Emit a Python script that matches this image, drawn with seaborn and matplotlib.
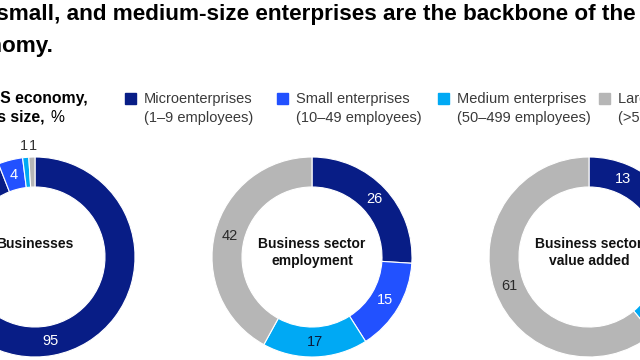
import matplotlib
matplotlib.use("Agg")
import matplotlib.pyplot as plt
from matplotlib.patches import Rectangle
import numpy as np
import seaborn as sns

# ── Data ────────────────────────────────────────────────────────────────
segments = ["Microenterprises", "Small enterprises", "Medium enterprises", "Large enterprises"]
segment_sizes = ["(1–9 employees)", "(10–49 employees)", "(50–499 employees)", "(>500 employees)"]
panel_names = ["Businesses", "Business sector\nemployment", "Business sector\nvalue added"]
businesses = [95, 4, 1, 1]
employment = [26, 15, 17, 42]
value_added = [13, 12, 14, 61]

title_lines = ["Micro-, small, and medium-size enterprises are the backbone of the",
               "US economy."]
subtitle_1 = "Share of US economy,"
subtitle_2 = "by business size,"
unit = "%"

colors = ["#081d86", "#2251ff", "#00a9f4", "#b6b6b6"]
value_colors = ["white", "white", "#0b1a3a", "#2a2a2a"]

sns.set_theme(style="white")
plt.rcParams["font.family"] = ["Liberation Sans", "DejaVu Sans"]

W, H = 640, 360
fig = plt.figure(figsize=(6.4, 3.6), dpi=100)
ax = fig.add_axes([0, 0, 1, 1])

# donut layout (pixel units, y up)
centers_x = [35, 312, 589]
center_y = H - 257
R = 100
ring = 30

for cx, vals, name in zip(centers_x, [businesses, employment, value_added], panel_names):
    wedges, _ = ax.pie(
        vals, colors=colors, center=(cx, center_y), radius=R,
        startangle=90, counterclock=False,
        wedgeprops=dict(width=ring, edgecolor="white", linewidth=0.8),
    )
    outside = []
    for w, v, tc in zip(wedges, vals, value_colors):
        mid = np.deg2rad((w.theta1 + w.theta2) / 2)
        if v < 2:
            # tiny slices get labels just outside the ring
            outside.append([cx + (R + 11) * np.cos(mid), center_y + (R + 11) * np.sin(mid), v])
            continue
        r = R - ring / 2
        ax.text(cx + r * np.cos(mid), center_y + r * np.sin(mid), str(v),
                ha="center", va="center", fontsize=10.5, color=tc)
    # push neighbouring outside labels apart a little
    outside.sort(key=lambda p: p[0])
    for a, b in zip(outside, outside[1:]):
        gap = b[0] - a[0]
        if gap < 9:
            a[0] -= (9 - gap) / 2
            b[0] += (9 - gap) / 2
    for x, y, v in outside:
        ax.text(x, y, str(v), ha="center", va="center", fontsize=10.5, color="#333333")
    ax.text(cx, H - 237, name, ha="center", va="top", fontsize=10,
            fontweight="bold", color="#111111", linespacing=1.25)

ax.set_xlim(0, W)
ax.set_ylim(0, H)
ax.set_aspect("equal")
ax.axis("off")

# ── Title / subtitle ────────────────────────────────────────────────────
for tx, ty, line in zip([-84, -88], [20, 52], title_lines):
    ax.text(tx, H - ty, line, ha="left", va="baseline", fontsize=16.2,
            fontweight="bold", color="#000000")
ax.text(-79, H - 103, subtitle_1, ha="left", va="baseline", fontsize=11.3,
        fontweight="bold", color="#000000")
sub2 = ax.text(-85, H - 122, subtitle_2, ha="left", va="baseline", fontsize=11.3,
               fontweight="bold", color="#000000")
ax.annotate(unit, xy=(1, 0), xycoords=sub2, xytext=(4.5, 0), textcoords="offset points",
            ha="left", va="bottom", fontsize=11.3, color="#000000")

# ── Legend ──────────────────────────────────────────────────────────────
legend_x = [125, 277, 438, 599]
for lx, col, seg, size in zip(legend_x, colors, segments, segment_sizes):
    ax.add_patch(Rectangle((lx, H - 104), 11, 11, color=col, clip_on=False))
    ax.text(lx + 19, H - 103, seg, ha="left", va="baseline", fontsize=10.5, color="#3a3a3a")
    ax.text(lx + 19, H - 122, size, ha="left", va="baseline", fontsize=10.5, color="#3a3a3a")

plt.savefig("out.png", dpi=100)
plt.close()
